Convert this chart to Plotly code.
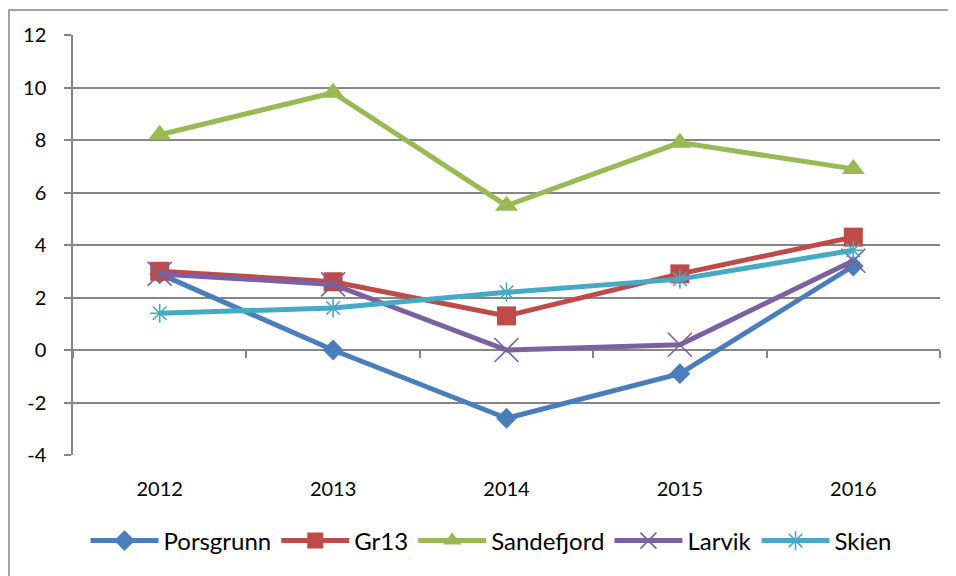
import plotly.graph_objects as go

years = ["2012", "2013", "2014", "2015", "2016"]
porsgrunn = [2.9, 0.0, -2.6, -0.9, 3.2]
gr13 = [3.0, 2.6, 1.3, 2.9, 4.3]
sandefjord = [8.2, 9.8, 5.5, 7.9, 6.9]
larvik = [2.9, 2.5, 0.0, 0.2, 3.4]
skien = [1.4, 1.6, 2.2, 2.7, 3.8]
y_tickvals = [-4, -2, 0, 2, 4, 6, 8, 10, 12]
y_ticktext = ["-4", "-2", "0", "2", "4", "6", "8", "10", "12"]

series = [
    ("Porsgrunn", porsgrunn, "#4A7EBB", dict(symbol="diamond", size=16)),
    ("Gr13", gr13, "#BE4B48", dict(symbol="square", size=19)),
    ("Sandefjord", sandefjord, "#98B954", dict(symbol="triangle-up", size=20)),
    ("Larvik", larvik, "#7D60A0", dict(symbol="x-thin", size=24, line=dict(width=1.6, color="#7D60A0"))),
    ("Skien", skien, "#46AAC5", dict(symbol="asterisk", size=16, line=dict(width=1.6, color="#46AAC5"))),
]

GRAY = "#868686"
W, H = 956, 576
OFF = 8  # page body margin
# target plot area on the page: x 73..940, y 35..455
ML = 73 - OFF
MR = W - (940 - OFF)
MT = 35 - OFF
MB = H - (455 - OFF)
PW, PH = W - ML - MR, H - MT - MB


def py(pix):  # page pixel y -> paper fraction
    return (H - MB - (pix - OFF)) / PH


def px(pix):  # page pixel x -> paper fraction
    return ((pix - OFF) - ML) / PW


fig = go.Figure()
for name, vals, col, mk in series:
    fig.add_trace(go.Scatter(
        x=years, y=vals, name=name, mode="lines+markers",
        line=dict(color=col, width=5),
        marker=dict(color=col, **mk),
        xaxis="x", yaxis="y",
    ))

# dummy trace for the label axis
fig.add_trace(go.Scatter(x=years, y=[-4] * len(years), mode="lines", opacity=0,
                         showlegend=False, hoverinfo="skip", xaxis="x2", yaxis="y"))

fig.update_layout(
    width=W, height=H,
    margin=dict(l=ML, r=MR, t=MT, b=MB),
    paper_bgcolor="white", plot_bgcolor="white",
    font=dict(family="Lato", color="black", size=20),
    showlegend=True,
    legend=dict(orientation="h", x=px(491), xanchor="center",
                y=py(541), yanchor="middle",
                font=dict(size=24), itemwidth=68, tracegroupgap=0,
                bgcolor="rgba(0,0,0,0)"),
    xaxis=dict(type="category", categoryorder="array", categoryarray=years,
               range=[-0.5, 4.5], anchor="free", position=0.25,
               showline=True, linecolor=GRAY, linewidth=1.5,
               ticks="outside", tickson="boundaries", ticklen=7, tickwidth=1.5, tickcolor=GRAY,
               showticklabels=False, showgrid=False, zeroline=False, layer="below traces"),
    xaxis2=dict(type="category", categoryorder="array", categoryarray=years,
                range=[-0.5, 4.5], overlaying="x", anchor="y", side="bottom",
                showline=False, ticks="", showgrid=False, zeroline=False,
                tickfont=dict(size=20), ticklabelstandoff=20),
    yaxis=dict(range=[-4, 12], tickmode="array", tickvals=y_tickvals, ticktext=y_ticktext,
               showline=True, linecolor=GRAY, linewidth=1.5,
               showgrid=True, gridcolor=GRAY, gridwidth=1.5,
               ticks="outside", ticklen=7, tickwidth=1.5, tickcolor=GRAY,
               zeroline=False, tickfont=dict(size=20), ticklabelstandoff=14),
    shapes=[dict(type="rect", xref="paper", yref="paper",
                 x0=px(9), x1=1.2, y0=-1, y1=py(10),
                 line=dict(color=GRAY, width=1.5), fillcolor="rgba(0,0,0,0)", layer="below")],
)

fig.write_html("out.html")
